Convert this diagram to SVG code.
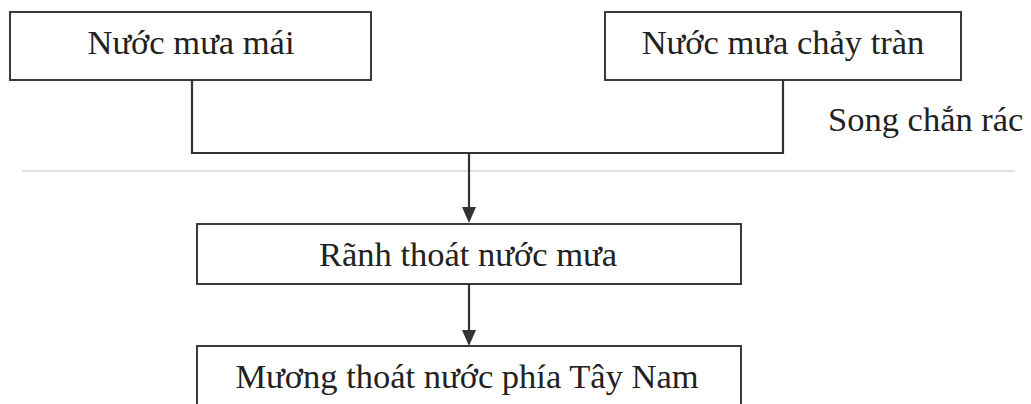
<svg xmlns="http://www.w3.org/2000/svg" width="1031" height="404" viewBox="0 0 1031 404">
<defs>
<style>
.box{fill:#fff;stroke:#3a3a3a;stroke-width:2}
.t{font-family:"Liberation Serif","Times New Roman",serif;font-size:34.5px;fill:#222}
.c{fill:none;stroke:#333;stroke-width:2.2}
</style>
</defs>
<rect width="1031" height="404" fill="#fff"/>
<line x1="22" y1="171" x2="1015" y2="171" stroke="#e2e2e2" stroke-width="2"/>
<g id="n1"><rect class="box" x="10" y="12" width="361" height="68"/><text class="t" x="191" y="54" text-anchor="middle">Nước mưa mái</text></g>
<g id="n2"><rect class="box" x="605" y="12" width="356" height="68"/><text class="t" x="783" y="54" text-anchor="middle">Nước mưa chảy tràn</text></g>
<g id="n3"><text class="t" x="828" y="131">Song chắn rác</text></g>
<g id="n4"><rect class="box" x="197" y="224" width="544" height="60"/><text class="t" x="468" y="266" text-anchor="middle">Rãnh thoát nước mưa</text></g>
<g id="n5"><rect class="box" x="197" y="346" width="544" height="70"/><text class="t" x="467" y="388" text-anchor="middle">Mương thoát nước phía Tây Nam</text></g>
<g id="connectors">
<path class="c" d="M192,80 V153 H783 V80"/>
<path class="c" d="M469,153 V207"/>
<path d="M462,207 L476,207 L469,223 z" fill="#333"/>
<path class="c" d="M469,284 V330"/>
<path d="M462,330 L476,330 L469,346 z" fill="#333"/>
</g>
</svg>
